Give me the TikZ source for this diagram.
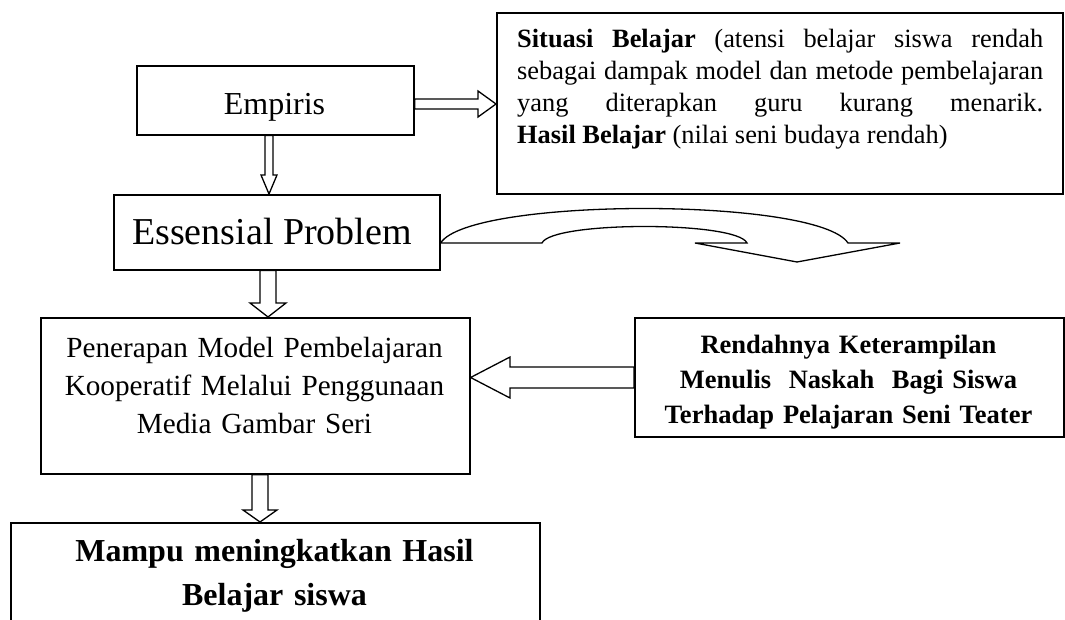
\documentclass[tikz,border=0pt]{standalone}
\usepackage{fontspec}
\setmainfont{Liberation Serif}
\begin{document}
\begin{tikzpicture}[x=1pt,y=-1pt,
  box/.style={draw, line width=1.6pt, inner sep=0pt, anchor=north west},
  blk/.style={draw, line width=1.3pt, line join=miter},
  txt/.style={inner sep=0pt, anchor=base}]
\useasboundingbox (0,0) rectangle (1065,620);
\clip (0,0) rectangle (1065,620);
% boxes
\node[box, minimum width=277pt, minimum height=69pt] (emp) at (136,65) {};
\node[box, minimum width=326pt, minimum height=75pt] (ess) at (113,194) {};
\node[box, minimum width=566pt, minimum height=181pt] (sit) at (496,12) {};
\node[box, minimum width=429pt, minimum height=156pt] (pen) at (40,317) {};
\node[box, minimum width=429pt, minimum height=119pt] (ren) at (634,317) {};
\node[box, minimum width=529pt, minimum height=130pt] (mam) at (10,522) {};
% texts
\node[txt, font=\fontsize{32}{38}\selectfont] (empT) at (274.5,115) {Empiris};
\node[txt, font=\fontsize{38}{44}\selectfont] (essT) at (272,245) {Essensial Problem};
\node[inner sep=0pt, anchor=base west, text width=526pt, align=justify,
      font=\fontsize{26.4}{32}\selectfont] (sitT) at (517,48)
  {\hyphenpenalty=10000\relax
   \textbf{Situasi Belajar} (atensi belajar siswa rendah\linebreak
   sebagai dampak model dan metode pembelajaran\linebreak
   yang diterapkan guru kurang menarik.\linebreak
   \textbf{Hasil Belajar} (nilai seni budaya rendah)};
\node[txt, text width=429pt, align=center, font=\fontsize{29.2}{38}\selectfont] (penT) at (254.5,357)
  {Penerapan Model Pembelajaran\\Kooperatif Melalui Penggunaan\\Media Gambar Seri};
\node[txt, text width=429pt, align=center, font=\fontsize{26.5}{35}\selectfont\bfseries] (renT) at (848.5,353)
  {Rendahnya Keterampilan\\Menulis\ \ Naskah\ \ Bagi Siswa\\Terhadap Pelajaran Seni Teater};
\node[txt, text width=529pt, align=center, font=\fontsize{32}{44}\selectfont\bfseries] (mamT) at (274.5,561)
  {Mampu meningkatkan Hasil\\Belajar siswa};
% block arrows
\draw[blk] (emp.east |- 0,99) -- (478,99) -- (478,91) -- (sit.west |- 0,104)
  -- (478,117) -- (478,109) -- (emp.east |- 0,109) -- cycle;
\draw[blk] (265,0 |- emp.south) -- (265,175) -- (261,175) -- (269,0 |- ess.north)
  -- (277,175) -- (273,175) -- (273,0 |- emp.south) -- cycle;
\draw[blk] (260,0 |- ess.south) -- (260,303) -- (250,303) -- (268,0 |- pen.north)
  -- (286,303) -- (276,303) -- (276,0 |- ess.south) -- cycle;
\draw[blk] (252,0 |- pen.south) -- (252,510) -- (243,510) -- (260,0 |- mam.north)
  -- (277,510) -- (268,510) -- (268,0 |- pen.south) -- cycle;
\draw[blk] (ren.west |- 0,367) -- (510,367) -- (510,357) -- (pen.east |- 0,377.5)
  -- (510,398) -- (510,388) -- (ren.west |- 0,388) -- cycle;
% curved arrow
\draw[blk] (ess.east |- 0,243) .. controls (470,197) and (818,197) .. (848,243)
  -- (900,243) -- (797,262) -- (695,243) -- (747,243)
  .. controls (737,221) and (552,221) .. (542,243) -- cycle;
\end{tikzpicture}
\end{document}
